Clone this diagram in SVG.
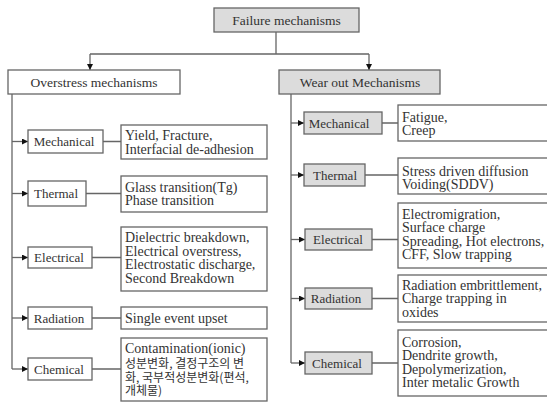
<svg xmlns="http://www.w3.org/2000/svg" width="547" height="403" viewBox="0 0 547 403">
<defs>
<marker id="ah" viewBox="0 0 6 6" refX="6" refY="3" markerWidth="6" markerHeight="6" markerUnits="userSpaceOnUse" orient="auto">
<path d="M0,0 L6,3 L0,6 Z" fill="#111"/>
</marker>
<style>
rect{stroke:#666;stroke-width:1.3}
.g{fill:#dcdcdc}
.w{fill:#fff}
.c{fill:none;stroke:#666;stroke-width:1.3}
.a{fill:none;stroke:#666;stroke-width:1.3;marker-end:url(#ah)}
text{font-family:"Liberation Serif","Noto Sans CJK KR",serif;fill:#333}
.h{font-size:13.5px;text-anchor:middle}
.l{font-size:13px;text-anchor:middle}
.d{font-size:14px}
.k{font-size:12px;font-family:"Noto Sans CJK KR","Liberation Serif",sans-serif}
</style>
</defs>
<g id="connectors">
<path class="c" d="M276,32 V54 M90,54 H369"/>
<path class="a" d="M90,54 V70"/>
<path class="a" d="M369,54 V70"/>
<path class="c" d="M12,94 V369"/>
<path class="a" d="M12,141.5 H28"/>
<path class="a" d="M12,193.5 H28"/>
<path class="a" d="M12,257.5 H28"/>
<path class="a" d="M12,318 H28"/>
<path class="a" d="M12,369 H28"/>
<path class="c" d="M103,141.5 H121 M86,193.5 H121 M92,257.5 H121 M92,318 H121 M92,369 H121"/>
<path class="c" d="M291,94 V363"/>
<path class="a" d="M291,123 H304"/>
<path class="a" d="M291,175 H304"/>
<path class="a" d="M291,239.5 H305"/>
<path class="a" d="M291,298.5 H305"/>
<path class="a" d="M291,363 H305"/>
<path class="c" d="M382,123 H398 M365,175 H398 M372,239.5 H398 M372,298.5 H398 M372,363 H398"/>
</g>
<g id="root"><rect class="g" x="214" y="8" width="145" height="24"/><text class="h" x="286.5" y="24.6">Failure mechanisms</text></g>
<g id="overstress"><rect class="w" x="8" y="70" width="172" height="24"/><text class="h" x="94" y="86.6">Overstress mechanisms</text></g>
<g id="wearout"><rect class="g" x="279" y="70" width="161" height="24"/><text class="h" x="360" y="86.6">Wear out Mechanisms</text></g>

<g id="o-mech"><rect class="w" x="28" y="130" width="75" height="23"/><text class="l" x="64" y="146">Mechanical</text></g>
<g id="o-mech-d"><rect class="w" x="121" y="125" width="146" height="34"/><text class="d" x="125" y="139.7">Yield, Fracture,</text><text class="d" x="125" y="153.7">Interfacial de-adhesion</text></g>
<g id="o-therm"><rect class="w" x="28" y="181" width="58" height="25"/><text class="l" x="56" y="198">Thermal</text></g>
<g id="o-therm-d"><rect class="w" x="121" y="176" width="146" height="36"/><text class="d" x="125" y="192.2">Glass transition(Tg)</text><text class="d" x="125" y="205.2">Phase transition</text></g>
<g id="o-elec"><rect class="w" x="28" y="247" width="64" height="21"/><text class="l" x="59" y="262">Electrical</text></g>
<g id="o-elec-d"><rect class="w" x="121" y="227" width="146" height="64"/><text class="d" x="125" y="242.2">Dielectric breakdown,</text><text class="d" x="125" y="255.7">Electrical overstress,</text><text class="d" x="125" y="269.2">Electrostatic discharge,</text><text class="d" x="125" y="282.7">Second Breakdown</text></g>
<g id="o-rad"><rect class="w" x="28" y="307" width="64" height="22"/><text class="l" x="59" y="322.5">Radiation</text></g>
<g id="o-rad-d"><rect class="w" x="121" y="307" width="146" height="22"/><text class="d" x="125" y="322.7">Single event upset</text></g>
<g id="o-chem"><rect class="w" x="28" y="358" width="64" height="22"/><text class="l" x="59" y="373.5">Chemical</text></g>
<g id="o-chem-d"><rect class="w" x="121" y="338" width="146" height="63"/><text class="d" x="125" y="353.2">Contamination(ionic)</text><text class="k" x="125" y="367.8">성분변화, 결정구조의 변</text><text class="k" x="125" y="381.6">화, 국부적성분변화(편석,</text><text class="k" x="125" y="395.2">개체물)</text></g>

<g id="w-mech"><rect class="g" x="304" y="112" width="78" height="22"/><text class="l" x="339" y="127.5">Mechanical</text></g>
<g id="w-mech-d"><rect class="w" x="398" y="105" width="152" height="36"/><text class="d" x="402" y="121.7">Fatigue,</text><text class="d" x="402" y="134.7">Creep</text></g>
<g id="w-therm"><rect class="g" x="304" y="164" width="61" height="22"/><text class="l" x="335" y="179.5">Thermal</text></g>
<g id="w-therm-d"><rect class="w" x="398" y="158" width="152" height="36"/><text class="d" x="402" y="175.7">Stress driven diffusion</text><text class="d" x="402" y="188.7">Voiding(SDDV)</text></g>
<g id="w-elec"><rect class="g" x="305" y="229" width="67" height="21"/><text class="l" x="338" y="244">Electrical</text></g>
<g id="w-elec-d"><rect class="w" x="398" y="203" width="152" height="65"/><text class="d" x="402" y="218.7">Electromigration,</text><text class="d" x="402" y="232.2">Surface charge</text><text class="d" x="402" y="245.7">Spreading, Hot electrons,</text><text class="d" x="402" y="259.2">CFF, Slow trapping</text></g>
<g id="w-rad"><rect class="g" x="305" y="288" width="67" height="21"/><text class="l" x="336" y="303">Radiation</text></g>
<g id="w-rad-d"><rect class="w" x="398" y="275" width="152" height="47"/><text class="d" x="402" y="289.7">Radiation embrittlement,</text><text class="d" x="402" y="303.2">Charge trapping in</text><text class="d" x="402" y="316.7">oxides</text></g>
<g id="w-chem"><rect class="g" x="305" y="352" width="67" height="22"/><text class="l" x="337" y="367.5">Chemical</text></g>
<g id="w-chem-d"><rect class="w" x="398" y="330" width="152" height="66"/><text class="d" x="402" y="346.7">Corrosion,</text><text class="d" x="402" y="360.2">Dendrite growth,</text><text class="d" x="402" y="373.7">Depolymerization,</text><text class="d" x="402" y="387.2">Inter metalic Growth</text></g>
</svg>
